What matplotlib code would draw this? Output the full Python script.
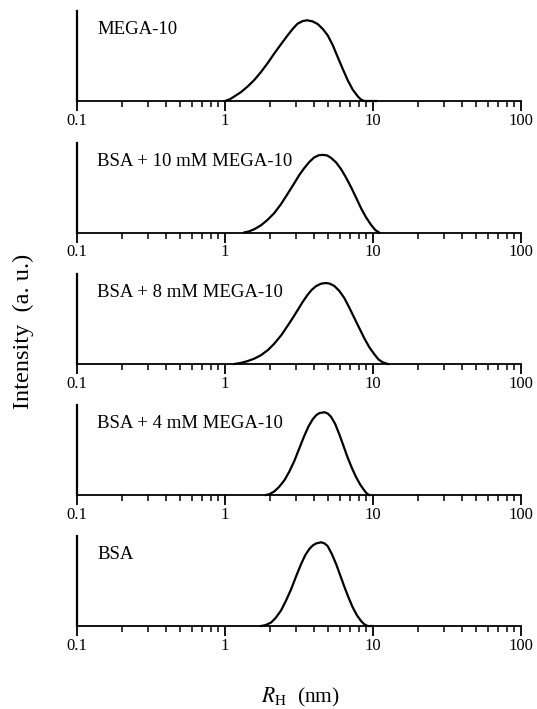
import numpy as np
import matplotlib
matplotlib.use('Agg')
import matplotlib.pyplot as plt
from matplotlib.ticker import FixedLocator, FixedFormatter, LogLocator, NullFormatter

plt.rcParams['font.family'] = ['Liberation Serif', 'DejaVu Serif']
plt.rcParams['mathtext.fontset'] = 'stix'

# panel labels, top to bottom
labels = ['MEGA-10', 'BSA + 10 mM MEGA-10', 'BSA + 8 mM MEGA-10',
          'BSA + 4 mM MEGA-10', 'BSA']

# hydrodynamic radius (nm) and intensity (a.u.)
rh_mega = [1.0, 1.08, 1.155, 1.28, 1.42, 1.58, 1.75, 1.95, 2.15, 2.40, 2.65,
           2.88, 3.10, 3.35, 3.58, 3.90, 4.23, 4.58, 4.94, 5.35, 5.77, 6.25,
           6.75, 7.30, 7.89, 8.30, 8.75, 10.5]
int_mega = [0, 0.02, 0.05, 0.098, 0.16, 0.235, 0.322, 0.425, 0.527, 0.635,
            0.73, 0.805, 0.86, 0.888, 0.897, 0.885, 0.855, 0.80, 0.73, 0.62,
            0.489, 0.355, 0.23, 0.125, 0.052, 0.015, 0, 0]

rh_10mm = [1.35, 1.45, 1.58, 1.75, 1.94, 2.15, 2.39, 2.65, 2.94, 3.18, 3.43,
           3.72, 4.01, 4.30, 4.57, 4.90, 5.2, 5.62, 6.08, 6.55, 7.1, 7.70,
           8.3, 9.0, 9.7, 10.4, 11.0]
int_10mm = [0, 0.012, 0.037, 0.08, 0.141, 0.215, 0.315, 0.43, 0.548, 0.64,
            0.715, 0.785, 0.835, 0.858, 0.863, 0.856, 0.83, 0.78, 0.705,
            0.615, 0.505, 0.385, 0.27, 0.165, 0.085, 0.025, 0]

rh_8mm = [1.155, 1.28, 1.42, 1.58, 1.75, 1.95, 2.15, 2.40, 2.65, 2.88, 3.10,
          3.35, 3.62, 3.86, 4.12, 4.45, 4.81, 5.10, 5.47, 5.90, 6.39, 6.90,
          7.47, 8.10, 8.74, 9.45, 10.2, 10.9, 11.66, 12.6]
int_8mm = [0, 0.012, 0.032, 0.06, 0.098, 0.155, 0.225, 0.32, 0.425, 0.515,
           0.60, 0.69, 0.77, 0.825, 0.865, 0.892, 0.90, 0.893, 0.868, 0.815,
           0.735, 0.63, 0.513, 0.395, 0.285, 0.185, 0.109, 0.05, 0.018, 0]

rh_4mm = [1.89, 2.0, 2.15, 2.32, 2.52, 2.72, 2.94, 3.18, 3.43, 3.66, 3.91,
          4.12, 4.34, 4.69, 4.95, 5.20, 5.55, 5.92, 6.32, 6.75, 7.20, 7.68,
          8.2, 8.74, 9.1, 9.44]
int_4mm = [0, 0.01, 0.039, 0.09, 0.164, 0.26, 0.378, 0.52, 0.655, 0.76, 0.84,
           0.885, 0.91, 0.92, 0.905, 0.87, 0.79, 0.675, 0.545, 0.414, 0.30,
           0.20, 0.115, 0.05, 0.015, 0]

rh_bsa = [1.75, 1.88, 2.05, 2.20, 2.39, 2.58, 2.79, 3.02, 3.26, 3.48, 3.71,
          3.92, 4.12, 4.46, 4.70, 4.94, 5.27, 5.63, 6.0, 6.39, 6.82, 7.28,
          7.78, 8.3, 8.75, 9.2, 9.9]
int_bsa = [0, 0.01, 0.039, 0.09, 0.172, 0.28, 0.404, 0.55, 0.685, 0.785,
           0.855, 0.895, 0.917, 0.93, 0.918, 0.888, 0.80, 0.69, 0.565, 0.44,
           0.32, 0.21, 0.12, 0.056, 0.018, 0, 0]

series = [(rh_mega, int_mega), (rh_10mm, int_10mm), (rh_8mm, int_8mm),
          (rh_4mm, int_4mm), (rh_bsa, int_bsa)]

W, H = 537, 709
fig = plt.figure(figsize=(W / 100, H / 100), dpi=100)

baselines = [101, 232.5, 364, 495, 626]   # px from top
ax_h = 90
left, right = 77, 521

for (x, y), lab, b in zip(series, labels, baselines):
    ax = fig.add_axes([left / W, 1 - b / H, (right - left) / W, ax_h / H])
    ax.plot(x, y, color='black', lw=1.6, clip_on=False,
            solid_joinstyle='round')
    ax.set_xscale('log')
    ax.set_xlim(0.1, 100)
    ax.set_ylim(0, 1)
    ax.spines['top'].set_visible(False)
    ax.spines['right'].set_visible(False)
    ax.spines['left'].set_linewidth(1.6)
    ax.spines['bottom'].set_linewidth(1.3)
    ax.set_yticks([])
    ax.xaxis.set_major_locator(FixedLocator([0.1, 1, 10, 100]))
    ax.xaxis.set_major_formatter(FixedFormatter(['0.1', '1', '10', '100']))
    ax.xaxis.set_minor_locator(LogLocator(base=10, subs=np.arange(2, 10)))
    ax.xaxis.set_minor_formatter(NullFormatter())
    ax.tick_params(axis='x', which='major', direction='out', length=7,
                   width=1.3, pad=1.5, labelsize=12)
    ax.tick_params(axis='x', which='minor', direction='out', length=4,
                   width=1.1)
    ax.text(0.045, 0.74, lab, transform=ax.transAxes, fontsize=13.5,
            ha='left', va='baseline')

fig.text(23 / W, 1 - 331 / H, 'Intensity  (a. u.)', rotation=90,
         ha='center', va='center', fontsize=17.5)
fig.text(300 / W, 1 - 697 / H, r'$R_\mathrm{H}$  (nm)', ha='center',
         va='center', fontsize=15.5)

fig.savefig('out.png', dpi=100)
